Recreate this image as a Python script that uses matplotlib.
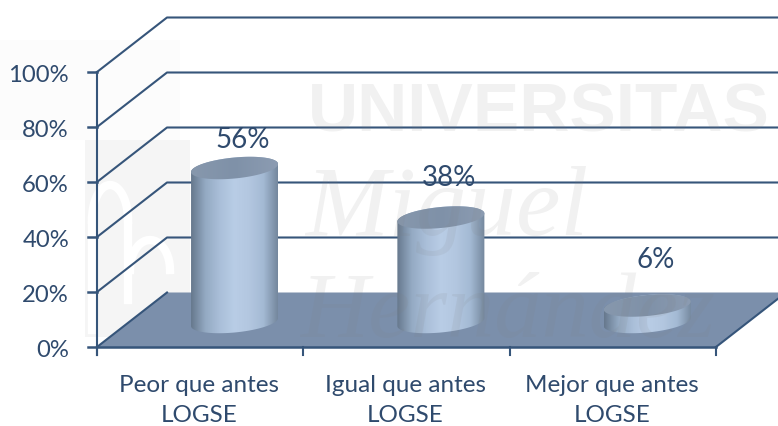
import numpy as np
import matplotlib
matplotlib.use("Agg")
import matplotlib.pyplot as plt
from matplotlib.patches import Polygon, Rectangle
from matplotlib.colors import LinearSegmentedColormap

categorias = ["Peor que antes\nLOGSE", "Igual que antes\nLOGSE", "Mejor que antes\nLOGSE"]
valores = [56, 38, 6]
etiquetas = ["56%", "38%", "6%"]
ticks_y = [0, 20, 40, 60, 80, 100]
ticks_txt = ["0%", "20%", "40%", "60%", "80%", "100%"]

COLOR_TXT = "#2f4a6d"
COLOR_LIN = "#36557a"
COLOR_SUELO = "#7b8fab"

# escala: pixeles por unidad
PX_X = 206.33
PX_Y = 2.75
X0 = 97
Y0 = 347
DX = 70 / PX_X      # profundidad 3d
DY = 54.5 / PX_Y

# separacion de las etiquetas sobre el cilindro (px)
sep_etiqueta = [28, 39, 45]


def px(x):
    return (x - X0) / PX_X


def py(y):
    return (Y0 - y) / PX_Y


fig = plt.figure(figsize=(7.78, 4.26), dpi=100)
ax = fig.add_axes([0, 0, 1, 1])
ax.axis("off")
plt.rcParams["font.family"] = ["Lato", "DejaVu Sans"]

n = len(categorias)

# suelo
ax.add_patch(Polygon([[0, 0], [n, 0], [n + DX, DY], [DX, DY]], closed=True,
                     facecolor=COLOR_SUELO, edgecolor="none", zorder=1))
ax.plot([n, n + DX], [0, DY], color=COLOR_LIN, lw=1.5, zorder=2)
ax.plot([0, DX], [0, DY], color=COLOR_LIN, lw=1.5, zorder=2)

# rejilla
for v in ticks_y[1:]:
    ax.plot([0, DX, n + DX + 1], [v, v + DY, v + DY], color=COLOR_LIN, lw=1.5, zorder=2)
    ax.plot([-9 / PX_X, 0], [v, v], color=COLOR_LIN, lw=1.8, zorder=2)
ax.plot([-9 / PX_X, n], [0, 0], color=COLOR_LIN, lw=1.8, zorder=2)
ax.plot([0, 0], [-8 / PX_Y, 100], color=COLOR_LIN, lw=1.5, zorder=2)
for i in range(n + 1):
    ax.plot([i, i], [-8 / PX_Y, 0], color=COLOR_LIN, lw=1.5, zorder=2)

for v, t in zip(ticks_y, ticks_txt):
    ax.text(-28 / PX_X, v - 1.3, t, ha="right", va="center", fontsize=17.2, color=COLOR_TXT, zorder=6)

for i, c in enumerate(categorias):
    ax.text(i + 0.5 - 1 / PX_X, -28 / PX_Y, c, ha="center", va="top", fontsize=17.5,
            linespacing=1.5, color=COLOR_TXT, zorder=6)

# cilindros
cmap_cuerpo = LinearSegmentedColormap.from_list("cuerpo", [
    "#66788d", "#94aac3", "#aabfd9", "#b9cde6", "#b3c7e0", "#a4bad4", "#74879d"])
cmap_tapa = LinearSegmentedColormap.from_list("tapa", ["#8798ad", "#7f91a8", "#8c9cb2"])
A = 43.5 / PX_X
B = 10.5 / PX_Y
TILT = 4.0 / PX_Y
t = np.linspace(0, 2 * np.pi, 121)


def elipse(cx, cy):
    xs = cx + A * np.cos(t)
    ys = cy + B * np.sin(t) + TILT * np.cos(t)
    return np.column_stack([xs, ys])


base = py(322)
for i, v in enumerate(valores):
    cx = i + 0.5 + DX / 2 - 0.003
    tope = base + v
    inf = elipse(cx, base)
    sup = elipse(cx, tope)
    abajo = inf[(t >= np.pi) & (t <= 2 * np.pi)]
    arriba = sup[(t >= 0) & (t <= np.pi)]
    contorno = np.vstack([abajo, arriba])
    grad = np.linspace(0, 1, 256).reshape(1, -1)
    im = ax.imshow(grad, extent=[cx - A, cx + A, base - B - 2, tope + B + 2], aspect="auto",
                   cmap=cmap_cuerpo, zorder=3, origin="lower")
    im.set_clip_path(Polygon(contorno, closed=True, transform=ax.transData))
    im2 = ax.imshow(grad, extent=[cx - A, cx + A, tope - B - 2, tope + B + 2], aspect="auto",
                    cmap=cmap_tapa, zorder=4, origin="lower")
    im2.set_clip_path(Polygon(sup, closed=True, transform=ax.transData))
    ax.text(cx + 8 / PX_X, tope + sep_etiqueta[i] / PX_Y, etiquetas[i], ha="center", va="center",
            fontsize=20, color=COLOR_TXT, zorder=6)

# marca de agua
gris = dict(color="#808080", alpha=0.11, zorder=5)
ax.text(px(308), py(131), "UNIVERSITAS", fontsize=50, fontweight="bold",
        family="Liberation Sans", ha="left", va="baseline", **gris)
ax.text(px(305), py(235), "Miguel", fontsize=72, style="italic",
        family="Liberation Serif", ha="left", va="baseline", **gris)
ax.text(px(300), py(337), "Hernández", fontsize=68, style="italic",
        family="Liberation Serif", ha="left", va="baseline", **gris)

# escudo de la marca de agua
ax.add_patch(Rectangle((px(85), py(337)), 105 / PX_X, 197 / PX_Y, facecolor="#808080",
                       alpha=0.08, edgecolor="none", zorder=0.5))
ax.add_patch(Rectangle((px(0), py(140)), 180 / PX_X, 100 / PX_Y, facecolor="#808080",
                       alpha=0.02, edgecolor="none", zorder=0.5))
arco = np.linspace(0, np.pi, 40)
ax.plot(px(110 + 18 * np.cos(arco)), py(220 - 35 * np.sin(arco)), color="white", lw=6, zorder=0.6)
ax.plot(px(92) * np.ones(2), py(np.array([220, 330])), color="white", lw=6, zorder=0.6)
ax.plot(px(128) * np.ones(2), py(np.array([220, 300])), color="white", lw=6, zorder=0.6)
ax.plot(px(150 + 20 * np.cos(arco)), py(270 - 30 * np.sin(arco)), color="white", lw=6, zorder=0.6)

ax.set_xlim(-X0 / PX_X, (778 - X0) / PX_X)
ax.set_ylim((Y0 - 426) / PX_Y, Y0 / PX_Y)

fig.savefig("out.png", dpi=100)
